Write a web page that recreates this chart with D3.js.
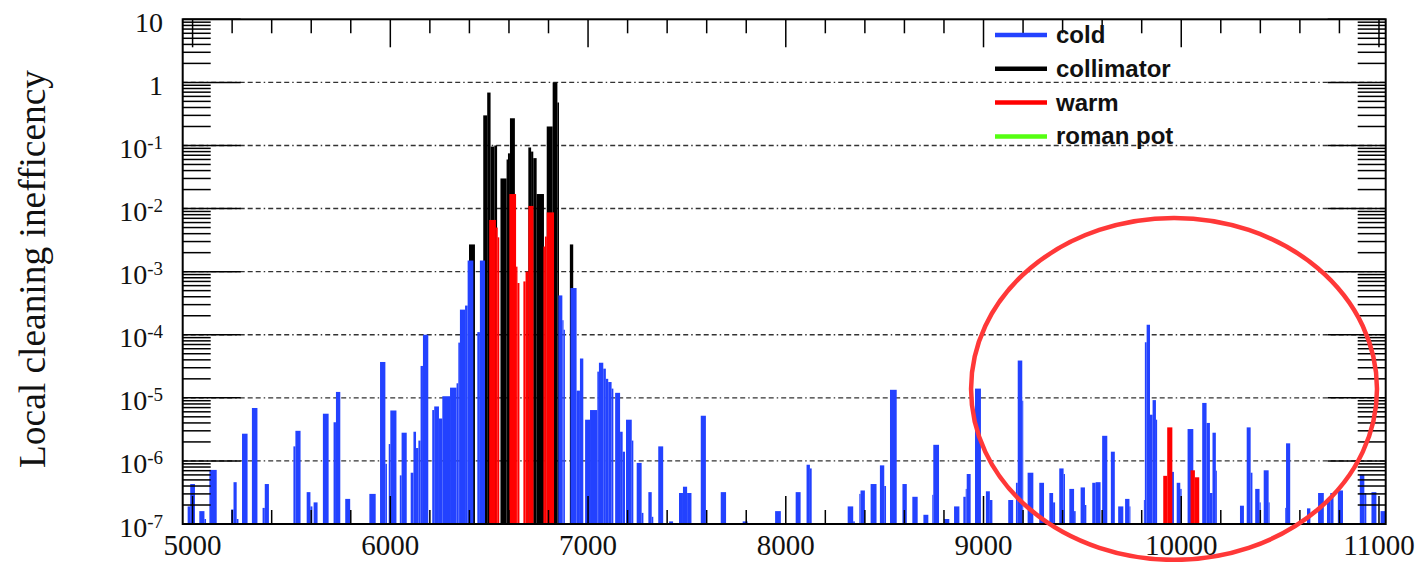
<!DOCTYPE html>
<html>
<head>
<meta charset="utf-8">
<script src="https://cdn.jsdelivr.net/npm/d3@7"></script>
<style>
  body { margin: 0; background: #fff; }
  svg { display: block; }
</style>
</head>
<body>
<svg id="chart" width="1419" height="562"></svg>
<script>
// ---------- data: [s start, s end, value] ----------
const cold = [
  [4975, 4988, 1.9e-7], [4988, 5012, 4.3e-7], [5034, 5060, 1.6e-7], [5060, 5068, 1.2e-7],
  [5085, 5122, 7.2e-7], [5195, 5207, 1.7e-7], [5207, 5223, 4.6e-7], [5223, 5232, 1.2e-7],
  [5250, 5278, 2.7e-6], [5300, 5328, 6.9e-6], [5354, 5365, 1.8e-7], [5365, 5386, 4.3e-7],
  [5510, 5520, 1.7e-6], [5520, 5546, 3.0e-6], [5577, 5596, 3.2e-7], [5596, 5606, 1.9e-7],
  [5612, 5632, 2.2e-7], [5659, 5688, 5.6e-6], [5713, 5725, 4.1e-6], [5725, 5747, 1.24e-5],
  [5772, 5797, 2.5e-7], [5894, 5926, 3.0e-7], [5948, 5975, 3.7e-5], [5975, 5983, 9e-7],
  [5992, 6000, 1.85e-6], [6000, 6031, 6.3e-6], [6048, 6057, 5.9e-7], [6057, 6083, 2.8e-6],
  [6103, 6117, 6.5e-7], [6117, 6130, 2.9e-6], [6130, 6142, 1.6e-6], [6142, 6153, 2.1e-6],
  [6153, 6165, 3.2e-5], [6165, 6192, 1.0e-4], [6212, 6222, 6.4e-6], [6222, 6246, 7.3e-6],
  [6246, 6263, 4.7e-6], [6263, 6302, 1.06e-5], [6302, 6335, 1.45e-5], [6335, 6344, 1.7e-5],
  [6344, 6352, 7.5e-5], [6352, 6378, 2.5e-4], [6378, 6391, 2.9e-4], [6391, 6420, 1.5e-3],
  [6440, 6453, 1.1e-4], [6453, 6479, 1.5e-3], [6850, 6870, 4.2e-4], [6870, 6876, 1.7e-4],
  [6876, 6883, 1.2e-4], [6911, 6942, 5.5e-4], [6942, 6959, 1.3e-5], [6959, 6976, 4.2e-5],
  [6985, 7010, 4.5e-6], [7010, 7047, 6.4e-6], [7047, 7055, 2.6e-5], [7055, 7077, 3.6e-5],
  [7077, 7090, 2.9e-5], [7090, 7102, 2.0e-5], [7102, 7119, 1.78e-5], [7119, 7128, 1.4e-5],
  [7137, 7162, 1.2e-5], [7162, 7175, 2.9e-6], [7175, 7187, 1.4e-6], [7192, 7221, 4.5e-6],
  [7221, 7229, 2.1e-6], [7246, 7271, 9.3e-7], [7271, 7280, 1.5e-7], [7305, 7322, 3.2e-7],
  [7322, 7330, 1.3e-7], [7355, 7380, 1.7e-6], [7410, 7430, 1.1e-7], [7460, 7480, 3.1e-7],
  [7480, 7501, 3.9e-7], [7501, 7523, 3.1e-7], [7570, 7596, 5.2e-6], [7671, 7698, 3.2e-7],
  [7782, 7807, 1.1e-7], [7946, 7975, 1.6e-7], [8050, 8075, 3.2e-7], [8105, 8122, 8.7e-7],
  [8122, 8131, 7.6e-7], [8313, 8341, 1.9e-7], [8341, 8349, 1.1e-7], [8372, 8378, 3.0e-7],
  [8378, 8400, 3.4e-7], [8429, 8459, 4.3e-7], [8476, 8498, 8.5e-7], [8498, 8507, 4.0e-7],
  [8527, 8561, 1.34e-5], [8590, 8612, 4.3e-7], [8640, 8667, 2.7e-7], [8696, 8721, 1.4e-7],
  [8741, 8746, 2.9e-7], [8746, 8775, 1.8e-6], [8800, 8827, 1.2e-7], [8851, 8878, 1.9e-7],
  [8898, 8910, 2.7e-7], [8910, 8915, 3.6e-7], [8915, 8935, 6.2e-7], [8957, 8987, 1.4e-5],
  [9012, 9032, 3.3e-7], [9032, 9045, 2.4e-7], [9125, 9150, 2.4e-7], [9164, 9173, 4.5e-7],
  [9173, 9196, 3.9e-5], [9196, 9201, 9e-6], [9223, 9252, 6.5e-7], [9282, 9306, 4.5e-7],
  [9333, 9352, 3.1e-7], [9352, 9362, 2.2e-7], [9383, 9405, 7.6e-7], [9405, 9412, 6.2e-7],
  [9434, 9458, 3.6e-7], [9458, 9466, 1.6e-7], [9491, 9513, 3.8e-7], [9513, 9520, 2.0e-7],
  [9550, 9567, 4.5e-7], [9567, 9592, 4.6e-7], [9600, 9626, 2.5e-6], [9644, 9664, 1.4e-6],
  [9681, 9707, 1.9e-7], [9716, 9738, 2.5e-7], [9738, 9743, 1.9e-7], [9811, 9816, 2.4e-7],
  [9816, 9825, 7.6e-5], [9825, 9842, 1.44e-4], [9842, 9855, 5.4e-6], [9855, 9872, 9.2e-6],
  [9872, 9878, 4.5e-6], [9952, 9963, 6.7e-7], [9977, 9995, 4.5e-7], [9995, 10002, 3.6e-7],
  [10032, 10061, 3.2e-6], [10106, 10128, 8.3e-6], [10128, 10145, 4.0e-6], [10145, 10158, 3.1e-7],
  [10158, 10175, 2.8e-6], [10175, 10180, 7e-7], [10297, 10317, 1.95e-7], [10331, 10351, 3.4e-6],
  [10351, 10360, 6.5e-7], [10374, 10396, 3.6e-7], [10396, 10402, 2.2e-7], [10417, 10442, 7.1e-7],
  [10442, 10447, 2.2e-7], [10526, 10530, 1.8e-7], [10530, 10551, 1.9e-6], [10636, 10653, 1.77e-7],
  [10692, 10721, 3.1e-7], [10737, 10754, 2.4e-7], [10754, 10770, 3.1e-7], [10792, 10818, 3.4e-7],
  [10903, 10926, 6.1e-7], [10926, 10936, 3.1e-7], [10962, 10987, 3.2e-7], [11008, 11033, 1.6e-7]
];

const collimator = [
  [6398, 6428, 2.7e-3], [6470, 6490, 0.30], [6490, 6507, 0.69], [6507, 6526, 0.096],
  [6526, 6540, 0.10], [6557, 6588, 0.030], [6588, 6595, 0.060], [6595, 6605, 0.075],
  [6605, 6630, 0.27], [6698, 6712, 0.093], [6712, 6723, 0.080], [6723, 6740, 0.063],
  [6740, 6777, 0.017], [6791, 6821, 0.20], [6821, 6845, 1.0], [6845, 6853, 0.48],
  [6908, 6925, 2.7e-3]
];

const warm = [
  [6500, 6534, 6.6e-3], [6534, 6543, 5.0e-3], [6543, 6551, 3.5e-3], [6602, 6636, 0.017],
  [6636, 6643, 1.2e-3], [6643, 6653, 6.6e-4], [6673, 6684, 7.0e-4], [6684, 6698, 1.0e-3],
  [6698, 6724, 0.011], [6774, 6782, 2.5e-3], [6782, 6791, 3.6e-3], [6791, 6828, 8.7e-3],
  [9909, 9929, 5.8e-7], [9929, 9955, 3.4e-6], [10047, 10069, 7.1e-7], [10069, 10091, 5.5e-7]
];

const romanPot = [];

const legendItems = [
  { name: "cold", color: "#2342ff" },
  { name: "collimator", color: "#000000" },
  { name: "warm", color: "#ff0000" },
  { name: "roman pot", color: "#55ff11" }
];

const xMajor = [5000, 6000, 7000, 8000, 9000, 10000, 11000];
const yExponents = [-7, -6, -5, -4, -3, -2, -1, 0, 1];
const yAxisTitle = "Local cleaning inefficency";
// highlighted region (s range, value range)
const highlight = { s: [8937, 10990], v: [2.7e-8, 7.1e-3] };

// ---------- scales ----------
const svg = d3.select("#chart");
const x = d3.scaleLinear().domain([4950, 11034]).range([182.7, 1385.7]);
const y = d3.scaleLog().domain([1e-7, 10]).range([524, 19.3]);
const [plotL, plotR] = x.range();
const [plotB, plotT] = y.range();

const xMinor = d3.range(5000, 11001, 200).filter(v => !xMajor.includes(v));
const yMinor = [];
yExponents.slice(0, -1).forEach(e => {
  for (let k = 2; k <= 9; k++) yMinor.push(k * Math.pow(10, e));
});

// ---------- grid ----------
svg.append("g")
  .selectAll("line")
  .data(yExponents.slice(1, -1).map(e => Math.pow(10, e)))
  .join("line")
  .attr("x1", plotL).attr("x2", plotR)
  .attr("y1", d => y(d)).attr("y2", d => y(d))
  .attr("stroke", "#333")
  .attr("stroke-width", 1.4)
  .attr("stroke-dasharray", "5,3,5,3,5,3,1.5,3");

// ---------- bars ----------
function drawBars(data, color) {
  svg.append("g")
    .selectAll("rect")
    .data(data)
    .join("rect")
    .attr("x", d => x(d[0]))
    .attr("width", d => x(d[1]) - x(d[0]))
    .attr("y", d => y(d[2]))
    .attr("height", d => y(1e-7) - y(d[2]))
    .attr("fill", color);
}
drawBars(collimator, "#000000");
drawBars(cold, "#2342ff");
drawBars(warm, "#ff0000");
drawBars(romanPot, "#55ff11");

// ---------- axes ----------
const ax = svg.append("g").attr("stroke", "#000").attr("stroke-width", 1.5);

function vTicks(values, len) {
  values.forEach(v => {
    ax.append("line").attr("x1", x(v)).attr("x2", x(v)).attr("y1", plotB).attr("y2", plotB - len);
    ax.append("line").attr("x1", x(v)).attr("x2", x(v)).attr("y1", plotT).attr("y2", plotT + len);
  });
}
function hTicks(values, len) {
  values.forEach(v => {
    ax.append("line").attr("y1", y(v)).attr("y2", y(v)).attr("x1", plotL).attr("x2", plotL + len);
    ax.append("line").attr("y1", y(v)).attr("y2", y(v)).attr("x1", plotR).attr("x2", plotR - len);
  });
}
vTicks(xMajor, 28);
vTicks(xMinor, 14);
hTicks(yExponents.map(e => Math.pow(10, e)), 58);
hTicks(yMinor, 28);

svg.append("rect")
  .attr("x", plotL).attr("y", plotT)
  .attr("width", plotR - plotL).attr("height", plotB - plotT)
  .attr("fill", "none").attr("stroke", "#000").attr("stroke-width", 2);

// x labels
svg.append("g")
  .selectAll("text")
  .data(xMajor)
  .join("text")
  .attr("x", d => x(d))
  .attr("y", 555)
  .attr("text-anchor", "middle")
  .attr("font-family", "Liberation Serif, Times New Roman, serif")
  .attr("font-size", 29)
  .attr("fill", "#111")
  .text(d => d);

// y labels
const yl = svg.append("g")
  .attr("font-family", "Liberation Serif, Times New Roman, serif")
  .attr("fill", "#111");
yExponents.forEach(e => {
  const t = yl.append("text")
    .attr("x", 163)
    .attr("y", y(Math.pow(10, e)) + 12.5)
    .attr("text-anchor", "end")
    .attr("font-size", 28);
  if (e === 0) t.text("1");
  else if (e === 1) t.text("10");
  else {
    t.append("tspan").text("10");
    t.append("tspan").attr("font-size", 19).attr("dy", -9).text(e);
  }
});

// y title
svg.append("text")
  .attr("transform", `translate(45,${(70 + 468) / 2}) rotate(-90)`)
  .attr("text-anchor", "middle")
  .attr("font-family", "Liberation Serif, Times New Roman, serif")
  .attr("font-size", 38)
  .attr("textLength", 398)
  .attr("lengthAdjust", "spacingAndGlyphs")
  .attr("fill", "#111")
  .text(yAxisTitle);

// ---------- legend ----------
const lg = svg.append("g")
  .selectAll("g")
  .data(legendItems)
  .join("g")
  .attr("transform", (d, i) => `translate(995,${35 + i * 33.8})`);
lg.append("line")
  .attr("x1", 0).attr("x2", 52)
  .attr("stroke", d => d.color)
  .attr("stroke-width", 4.5);
lg.append("text")
  .attr("x", 61).attr("y", 8)
  .attr("font-family", "Liberation Sans, Arial, sans-serif")
  .attr("font-weight", "bold")
  .attr("font-size", 24)
  .attr("fill", "#111")
  .text(d => d.name);

// ---------- highlight ellipse ----------
const ex0 = x(highlight.s[0]), ex1 = x(highlight.s[1]);
const ey0 = y(highlight.v[1]), ey1 = y(highlight.v[0]);
svg.append("ellipse")
  .attr("cx", (ex0 + ex1) / 2).attr("cy", (ey0 + ey1) / 2)
  .attr("rx", (ex1 - ex0) / 2).attr("ry", (ey1 - ey0) / 2)
  .attr("fill", "none")
  .attr("stroke", "#ff3838")
  .attr("stroke-width", 4.5);
</script>
</body>
</html>
